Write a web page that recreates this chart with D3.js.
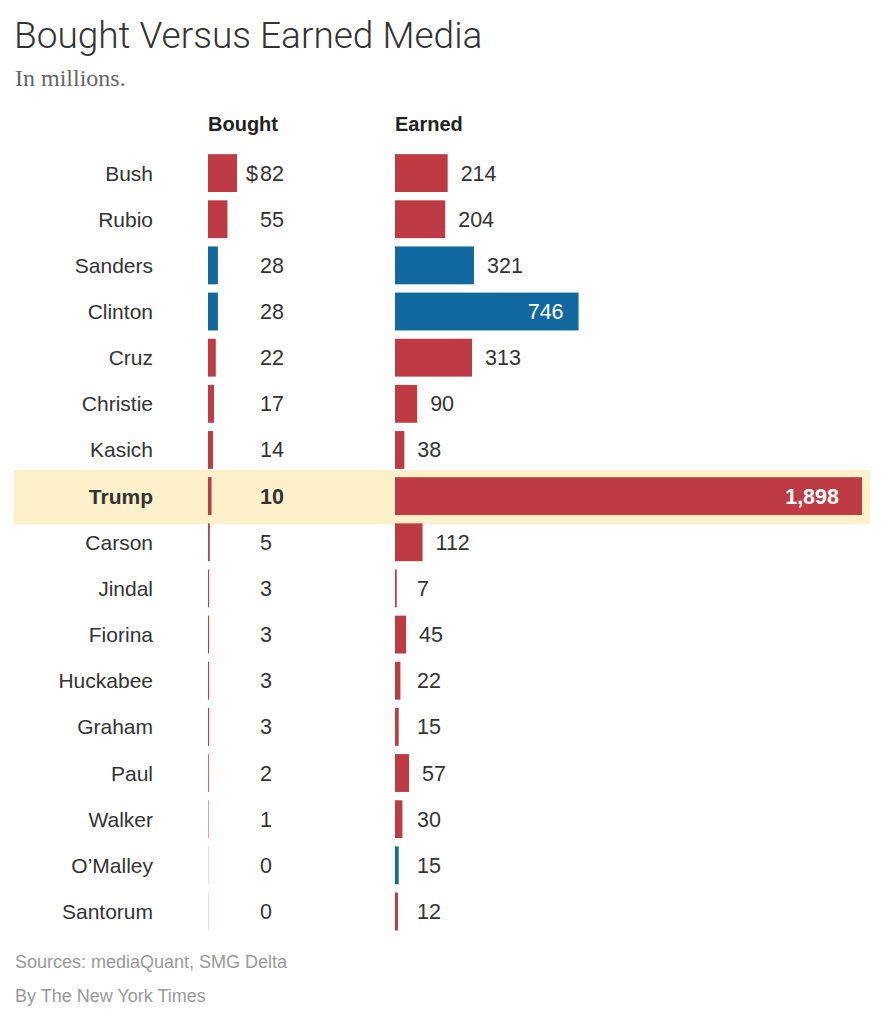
<!DOCTYPE html>
<html>
<head>
<meta charset="utf-8">
<script src="https://cdn.jsdelivr.net/npm/d3@7"></script>
<style>
  html, body { margin: 0; padding: 0; background: #fff; }
  svg { display: block; }
</style>
</head>
<body>
<svg id="chart" width="893" height="1024"></svg>
<script>
const candidates = ["Bush","Rubio","Sanders","Clinton","Cruz","Christie","Kasich","Trump","Carson","Jindal","Fiorina","Huckabee","Graham","Paul","Walker","O\u2019Malley","Santorum"];
const bought = [82,55,28,28,22,17,14,10,5,3,3,3,3,2,1,0,0];
const earned = [214,204,321,746,313,90,38,1898,112,7,45,22,15,57,30,15,12];
const party = ["R","R","D","D","R","R","R","R","R","R","R","R","R","R","R","D","R"];
const highlighted = ["Trump"];
const insideLabels = ["Clinton","Trump"];

const title = "Bought Versus Earned Media";
const subtitle = "In millions.";
const source = "Sources: mediaQuant, SMG Delta";
const credit = "By The New York Times";

const RED = "#be3b43", BLUE = "#1268a1";
const SANS = "'Liberation Sans', Arial, sans-serif";

const svg = d3.select("#chart");

// title block
svg.append("text").attr("x", 14).attr("y", 48)
  .attr("font-family", "Roboto, sans-serif").attr("font-weight", 300)
  .attr("font-size", 37).attr("fill", "#333").text(title);
svg.append("text").attr("x", 15).attr("y", 86)
  .attr("font-family", "'Liberation Serif', serif")
  .attr("font-size", 24).attr("fill", "#666").text(subtitle);

const y = d3.scaleBand().domain(candidates).range([150, 150 + 17 * 46.15])
  .paddingInner(0.18).paddingOuter(0.09);

const xB0 = 208, xE0 = 395;
const xBought = d3.scaleLinear().domain([0, 82]).range([xB0, xB0 + 29]);
const xEarned = d3.scaleLinear().domain([0, 1898]).range([xE0, 862]);

const rows = candidates.map((c, i) => ({ name: c, bought: bought[i], earned: earned[i], party: party[i] }));
const color = d => d.party === "D" ? BLUE : RED;

// highlight band
rows.filter(d => highlighted.includes(d.name)).forEach(d => {
  const pad = (y.step() - y.bandwidth()) / 2;
  svg.append("rect").attr("x", 14).attr("width", 856)
    .attr("y", y(d.name) - pad - 3).attr("height", y.bandwidth() + 2 * pad + 8)
    .attr("fill", "#fcf1cb");
});

// headers
svg.append("text").attr("x", xB0).attr("y", 131).attr("font-family", SANS)
  .attr("font-weight", 700).attr("font-size", 20).attr("fill", "#222").text("Bought");
svg.append("text").attr("x", xE0).attr("y", 131).attr("font-family", SANS)
  .attr("font-weight", 700).attr("font-size", 20).attr("fill", "#222").text("Earned");

const g = svg.append("g");
const row = g.selectAll("g.row").data(rows).join("g").attr("class", "row");
const mid = d => y(d.name) + y.bandwidth() / 2;
const bold = d => highlighted.includes(d.name) ? 700 : 400;

// names
row.append("text").attr("x", 153).attr("y", d => mid(d) + 7.5)
  .attr("text-anchor", "end").attr("font-family", SANS).attr("font-size", 21)
  .attr("font-weight", bold).attr("fill", "#333").text(d => d.name);

// baseline ticks (pale) for each bar
row.append("rect").attr("x", xB0).attr("y", d => y(d.name)).attr("width", 1.2)
  .attr("height", y.bandwidth()).attr("fill", "#efdde0");
row.append("rect").attr("x", xE0).attr("y", d => y(d.name)).attr("width", 1.2)
  .attr("height", y.bandwidth()).attr("fill", "#efdde0");

// bought bars
row.append("rect").attr("x", xB0).attr("y", d => y(d.name))
  .attr("width", d => xBought(d.bought) - xB0).attr("height", y.bandwidth())
  .attr("fill", color);
// bought labels (left-aligned column, currency sign hanging)
row.append("text").attr("x", 260).attr("y", d => mid(d) + 7.5)
  .attr("font-family", SANS).attr("font-size", 21.5)
  .attr("font-weight", bold).attr("fill", "#333")
  .text(d => d3.format(",")(d.bought));
row.filter((d, i) => i === 0).append("text").attr("x", 258).attr("y", d => mid(d) + 7.5)
  .attr("text-anchor", "end").attr("font-family", SANS).attr("font-size", 21.5)
  .attr("fill", "#333").text("$");

// earned bars
row.append("rect").attr("x", xE0).attr("y", d => y(d.name))
  .attr("width", d => xEarned(d.earned) - xE0).attr("height", y.bandwidth())
  .attr("fill", color);
// earned labels
row.append("text")
  .attr("x", d => insideLabels.includes(d.name)
      ? xEarned(d.earned) - (highlighted.includes(d.name) ? 23 : 15)
      : Math.max(xEarned(d.earned) + 13, xE0 + 22))
  .attr("y", d => mid(d) + 7.5)
  .attr("text-anchor", d => insideLabels.includes(d.name) ? "end" : "start")
  .attr("font-family", SANS).attr("font-size", 21.5)
  .attr("font-weight", bold)
  .attr("fill", d => insideLabels.includes(d.name) ? "#fff" : "#333")
  .text(d => d3.format(",")(d.earned));

// footer
svg.append("text").attr("x", 15).attr("y", 968).attr("font-family", SANS)
  .attr("font-size", 18).attr("fill", "#999").text(source);
svg.append("text").attr("x", 15).attr("y", 1002).attr("font-family", SANS)
  .attr("font-size", 18).attr("fill", "#999").text(credit);
</script>
</body>
</html>
